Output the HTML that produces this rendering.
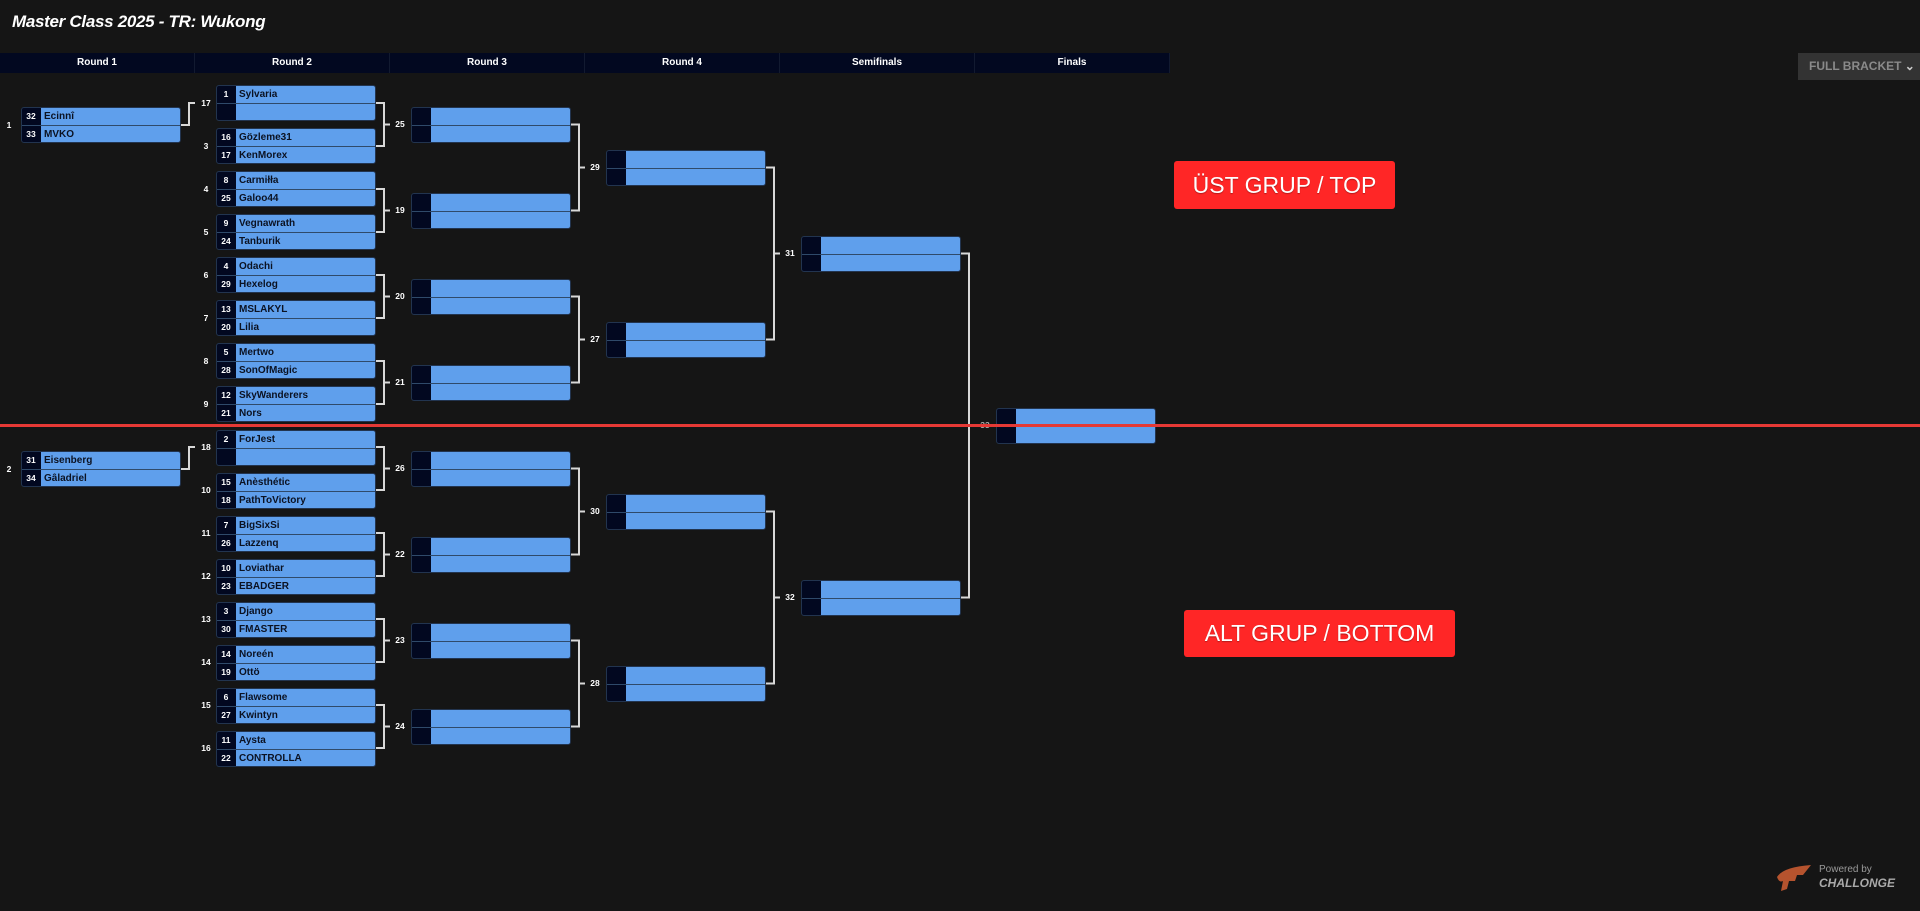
<!DOCTYPE html>
<html><head><meta charset="utf-8"><style>
*{margin:0;padding:0;box-sizing:border-box}
body{width:1920px;height:911px;background:#151515;position:relative;overflow:hidden;font-family:"Liberation Sans",sans-serif}
.t{position:absolute;left:12px;top:12px;color:#fff;font-weight:bold;font-style:italic;font-size:17px;letter-spacing:-0.3px}
.hd{position:absolute;left:0;top:53px;width:1170px;height:20px;background:#020820;display:flex}
.hd div{width:195px;border-right:1px solid #121a30;color:#fff;font-weight:bold;font-size:10px;text-align:center;line-height:20px}
.m{position:absolute;width:160px;height:36px;border:1px solid #22344f;border-radius:3px;background:linear-gradient(to right,#020820 19px,#5f9fec 19px);overflow:hidden}
.m::after{content:"";position:absolute;left:0;right:0;top:17px;height:1px;background:#2f4a6a}
.r{height:17px;line-height:17px;display:flex;margin-bottom:1px}
.r b{width:18px;text-align:center;color:#fff;font-size:8.5px;font-weight:bold}
.r span{padding-left:4px;color:#0b1222;font-size:10px;font-weight:bold}
.n{position:absolute;width:18px;text-align:center;color:#fff;font-size:8.5px;font-weight:bold;line-height:12px}
.red{position:absolute;left:0;top:424px;width:1920px;height:3px;background:#e53935;z-index:5}
.lab{position:absolute;background:#ff2626;color:#fff;font-size:23px;border-radius:3px;text-align:center;text-shadow:0 1px 1px rgba(0,0,0,.3)}
.btn{position:absolute;left:1798px;top:53px;width:122px;height:27px;background:#333;color:#8a8a8a;font-weight:bold;font-size:12px;line-height:27px;padding-left:11px}
</style></head><body>
<div class="t">Master Class 2025 - TR: Wukong</div>
<div class="hd"><div>Round 1</div><div>Round 2</div><div>Round 3</div><div>Round 4</div><div>Semifinals</div><div>Finals</div></div>
<div class="btn">FULL BRACKET <span style="color:#ccc">&#8964;</span></div>

<svg style="position:absolute;left:0;top:0" width="1920" height="911" fill="none" stroke="#d8d8d8" stroke-width="2">
<path d="M181 125H189V103H195M181 469H189V447H195"/>
<path d="M376 103H384V146H376M384 124.5H390M376 189H384V232H376M384 210.5H390M376 275H384V318H376M384 296.5H390M376 361H384V404H376M384 382.5H390M376 447H384V490H376M384 468.5H390M376 533H384V576H376M384 554.5H390M376 619H384V662H376M384 640.5H390M376 705H384V748H376M384 726.5H390"/>
<path d="M571 124.5H579V210.5H571M579 167.5H585M571 296.5H579V382.5H571M579 339.5H585M571 468.5H579V554.5H571M579 511.5H585M571 640.5H579V726.5H571M579 683.5H585"/>
<path d="M766 167.5H774V339.5H766M774 253.5H780M766 511.5H774V683.5H766M774 597.5H780"/>
<path d="M961 253.5H969V597.5H961M969 425.5H975"/>
</svg>

<!-- Round 1 -->
<div class="n" style="left:0;top:119px">1</div>
<div class="m" style="left:21px;top:107px"><div class="r"><b>32</b><span>Ecinnî</span></div><div class="r"><b>33</b><span>MVKO</span></div></div>
<div class="n" style="left:0;top:463px">2</div>
<div class="m" style="left:21px;top:451px"><div class="r"><b>31</b><span>Eisenberg</span></div><div class="r"><b>34</b><span>Gâladriel</span></div></div>

<!-- Round 2 -->
<div class="n" style="left:197px;top:97px">17</div>
<div class="m" style="left:216px;top:85px"><div class="r"><b>1</b><span>Sylvaria</span></div><div class="r"><b></b><span></span></div></div>
<div class="n" style="left:197px;top:140px">3</div>
<div class="m" style="left:216px;top:128px"><div class="r"><b>16</b><span>Gözleme31</span></div><div class="r"><b>17</b><span>KenMorex</span></div></div>
<div class="n" style="left:197px;top:183px">4</div>
<div class="m" style="left:216px;top:171px"><div class="r"><b>8</b><span>Carmiłła</span></div><div class="r"><b>25</b><span>Galoo44</span></div></div>
<div class="n" style="left:197px;top:226px">5</div>
<div class="m" style="left:216px;top:214px"><div class="r"><b>9</b><span>Vegnawrath</span></div><div class="r"><b>24</b><span>Tanburik</span></div></div>
<div class="n" style="left:197px;top:269px">6</div>
<div class="m" style="left:216px;top:257px"><div class="r"><b>4</b><span>Odachi</span></div><div class="r"><b>29</b><span>Hexelog</span></div></div>
<div class="n" style="left:197px;top:312px">7</div>
<div class="m" style="left:216px;top:300px"><div class="r"><b>13</b><span>MSLAKYL</span></div><div class="r"><b>20</b><span>Lilia</span></div></div>
<div class="n" style="left:197px;top:355px">8</div>
<div class="m" style="left:216px;top:343px"><div class="r"><b>5</b><span>Mertwo</span></div><div class="r"><b>28</b><span>SonOfMagic</span></div></div>
<div class="n" style="left:197px;top:398px">9</div>
<div class="m" style="left:216px;top:386px"><div class="r"><b>12</b><span>SkyWanderers</span></div><div class="r"><b>21</b><span>Nors</span></div></div>
<div class="n" style="left:197px;top:441px">18</div>
<div class="m" style="left:216px;top:430px"><div class="r"><b>2</b><span>ForJest</span></div><div class="r"><b></b><span></span></div></div>
<div class="n" style="left:197px;top:484px">10</div>
<div class="m" style="left:216px;top:473px"><div class="r"><b>15</b><span>Anèsthétic</span></div><div class="r"><b>18</b><span>PathToVictory</span></div></div>
<div class="n" style="left:197px;top:527px">11</div>
<div class="m" style="left:216px;top:516px"><div class="r"><b>7</b><span>BigSixSi</span></div><div class="r"><b>26</b><span>Lazzenq</span></div></div>
<div class="n" style="left:197px;top:570px">12</div>
<div class="m" style="left:216px;top:559px"><div class="r"><b>10</b><span>Loviathar</span></div><div class="r"><b>23</b><span>EBADGER</span></div></div>
<div class="n" style="left:197px;top:613px">13</div>
<div class="m" style="left:216px;top:602px"><div class="r"><b>3</b><span>Django</span></div><div class="r"><b>30</b><span>FMASTER</span></div></div>
<div class="n" style="left:197px;top:656px">14</div>
<div class="m" style="left:216px;top:645px"><div class="r"><b>14</b><span>Noreén</span></div><div class="r"><b>19</b><span>Ottö</span></div></div>
<div class="n" style="left:197px;top:699px">15</div>
<div class="m" style="left:216px;top:688px"><div class="r"><b>6</b><span>Flawsome</span></div><div class="r"><b>27</b><span>Kwintyn</span></div></div>
<div class="n" style="left:197px;top:742px">16</div>
<div class="m" style="left:216px;top:731px"><div class="r"><b>11</b><span>Aysta</span></div><div class="r"><b>22</b><span>CONTROLLA</span></div></div>

<!-- Round 3 -->
<div class="n" style="left:391px;top:118px">25</div><div class="m" style="left:411px;top:107px"><div class="r"><b></b></div><div class="r"><b></b></div></div>
<div class="n" style="left:391px;top:204px">19</div><div class="m" style="left:411px;top:193px"><div class="r"><b></b></div><div class="r"><b></b></div></div>
<div class="n" style="left:391px;top:290px">20</div><div class="m" style="left:411px;top:279px"><div class="r"><b></b></div><div class="r"><b></b></div></div>
<div class="n" style="left:391px;top:376px">21</div><div class="m" style="left:411px;top:365px"><div class="r"><b></b></div><div class="r"><b></b></div></div>
<div class="n" style="left:391px;top:462px">26</div><div class="m" style="left:411px;top:451px"><div class="r"><b></b></div><div class="r"><b></b></div></div>
<div class="n" style="left:391px;top:548px">22</div><div class="m" style="left:411px;top:537px"><div class="r"><b></b></div><div class="r"><b></b></div></div>
<div class="n" style="left:391px;top:634px">23</div><div class="m" style="left:411px;top:623px"><div class="r"><b></b></div><div class="r"><b></b></div></div>
<div class="n" style="left:391px;top:720px">24</div><div class="m" style="left:411px;top:709px"><div class="r"><b></b></div><div class="r"><b></b></div></div>

<!-- Round 4 -->
<div class="n" style="left:586px;top:161px">29</div><div class="m" style="left:606px;top:150px"><div class="r"><b></b></div><div class="r"><b></b></div></div>
<div class="n" style="left:586px;top:333px">27</div><div class="m" style="left:606px;top:322px"><div class="r"><b></b></div><div class="r"><b></b></div></div>
<div class="n" style="left:586px;top:505px">30</div><div class="m" style="left:606px;top:494px"><div class="r"><b></b></div><div class="r"><b></b></div></div>
<div class="n" style="left:586px;top:677px">28</div><div class="m" style="left:606px;top:666px"><div class="r"><b></b></div><div class="r"><b></b></div></div>

<!-- Semis -->
<div class="n" style="left:781px;top:247px">31</div><div class="m" style="left:801px;top:236px"><div class="r"><b></b></div><div class="r"><b></b></div></div>
<div class="n" style="left:781px;top:591px">32</div><div class="m" style="left:801px;top:580px"><div class="r"><b></b></div><div class="r"><b></b></div></div>

<!-- Final -->
<div class="n" style="left:976px;top:419px;color:#aaa">33</div><div class="m" style="left:996px;top:408px"><div class="r"><b></b></div><div class="r"><b></b></div></div>

<div class="red"></div>
<div class="lab" style="left:1174px;top:161px;width:221px;height:48px;line-height:48px">ÜST GRUP / TOP</div>
<div class="lab" style="left:1184px;top:610px;width:271px;height:47px;line-height:47px">ALT GRUP / BOTTOM</div>

<svg style="position:absolute;left:1773px;top:863px" width="40" height="30"><path d="M4 14 Q10 4 38 2 L30 12 L24 12 L22 18 L16 18 L14 26 L8 28 L10 18 Q6 20 4 14Z" fill="#b5532e"/></svg>
<div style="position:absolute;left:1819px;top:864px;color:#999;font-size:10px">Powered by</div>
<div style="position:absolute;left:1819px;top:876px;color:#aaa;font-size:12px;font-weight:bold;font-style:italic">CHALLONGE</div>
</body></html>
